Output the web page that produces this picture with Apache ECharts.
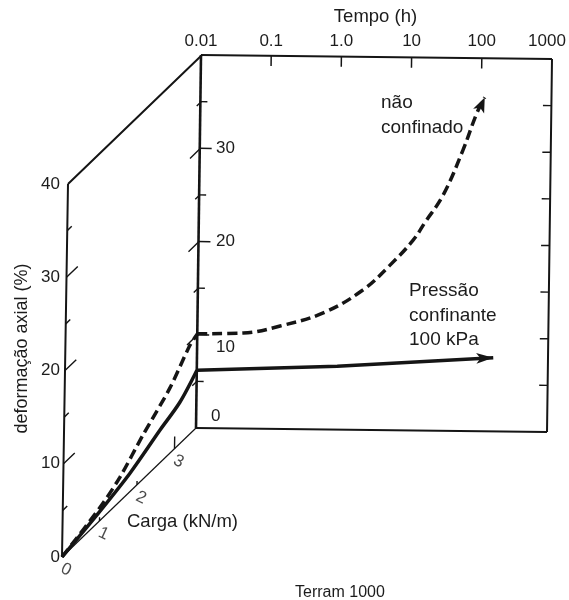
<!DOCTYPE html>
<html><head><meta charset="utf-8">
<style>html,body{margin:0;padding:0;background:#fff}#c{width:569px;height:600px}</style>
<script src="https://cdn.jsdelivr.net/npm/echarts@6/dist/echarts.min.js"></script>
</head><body><div id="c"></div>
<script>
const timeTicks=[0.01,0.1,1,10,100,1000];
const timeLabels=['0.01','0.1','1.0','10','100','1000'];
const strainMajor=[10,20,30];
const strainMinor=[5,15,25,35];
const loadLabels=[0,1,2,3];
const LOAD_MAX=3.573, STRAIN_MAX=40;
// curves: load stage (load kN/m, strain %)
const loadDashedL=[0,1,1.536,2.14,2.85,3.376,3.573];
const loadDashedS=[0,1.4,2.63,4.8,7.1,9.66,10.1];
const loadSolidL=[0,1,1.805,2.6,3.125,3.573];
const loadSolidS=[0,1.0,2.0,3.55,4.5,6.2];
// curves: creep stage (time h, strain %)
const creepDashedT=[0.01,0.045,0.151,0.617,2.24,5.4,11.4,16.6,30,56,87,112];
const creepDashedS=[10.1,10.24,11.04,12.5,15,17.7,20.4,22.3,25.3,30.1,34.1,35.8];
const creepSolidT=[0.01,1,166];
const creepSolidS=[6.2,6.8,7.9];

// Oblique drawing: the printed planes are slightly sheared, expressed in each grid's units
function back(t,s){const u=Math.log10(t/0.01);
  return [0.01*Math.pow(10,u+s*0.125/70.2), s-u*0.8/9.325];}
function side(L,s){return [L+s*0.004, s+L*3.871];}
const GAP=[NaN,NaN];
function segs(list,fn){const o=[];list.forEach(p=>{o.push(fn(p[0],p[1]),fn(p[2],p[3]),GAP);});return o;}
const INK='#151515', TXT='#1c1c1c', FF='Liberation Sans';
const T0=0.01,T1=1000;
const ln=(name,gi,data,w,extra)=>Object.assign({name,type:'line',xAxisIndex:gi,yAxisIndex:gi,data,
  symbol:'none',silent:true,clip:false,animation:false,connectNulls:false,
  lineStyle:{color:INK,width:w},itemStyle:{color:INK}},extra||{});
const dec=(t,d)=>t*Math.pow(10,d);

const frame=segs([[T0,40,T1,40],[T1,40,T1,0],[T1,0,T0,0]],back);
const backEdge=segs([[T0,0,T0,40]],back);
const sideFrame=segs([[0,0,0,STRAIN_MAX],[0,STRAIN_MAX,LOAD_MAX,STRAIN_MAX]],side);
const loadAxis=segs([[0,0,LOAD_MAX,0]],side);
const backTicks=segs([
  ...strainMajor.map(s=>[T0,s,dec(T0,0.17),s]),
  ...strainMinor.map(s=>[T0,s,dec(T0,0.1),s]),
  ...timeTicks.slice(1,5).map(t=>[t,40,t,38.9]),
  ...strainMajor.concat(strainMinor).map(s=>[T1,s,dec(T1,-0.12),s])
],back);
const sideTicks=segs([
  ...strainMajor.map(s=>[0,s,0.3,s]),
  ...strainMinor.map(s=>[0,s,0.12,s]),
  ...strainMajor.map(s=>[LOAD_MAX,s,LOAD_MAX-0.28,s]),
  ...strainMinor.map(s=>[LOAD_MAX,s,LOAD_MAX-0.12,s]),
  [1,0,1,0.4],[2,0,2,0.4],[3,0,3,1.3]
],side);
const zipPts=(a,b,fn)=>a.map((v,i)=>fn(v,b[i]));
function withArrow(pts,rot,size){const n=pts.length-1;
  return pts.map((p,i)=>i===n?{value:p,symbol:'arrow',symbolSize:size,symbolRotate:rot}:{value:p,symbol:'none'});}
const txt=(x,y,text,o)=>({type:'text',x,y,silent:true,style:Object.assign({text,fill:TXT,
  font:'19px "Liberation Sans"',lineHeight:24.5},o||{})});

const chart=echarts.init(document.getElementById('c'),null,{renderer:'canvas'});
const tickLabel=v=>{const i=timeTicks.findIndex(t=>Math.abs(Math.log10(t)-Math.log10(v))<1e-6);
  if(i<0)return ''; return i===timeTicks.length-1?timeLabels[i]:'{s|'+timeLabels[i]+'}';};
const lab={fontSize:17,fontFamily:FF,color:TXT};
chart.setOption({
  animation:false,backgroundColor:'#fff',
  grid:[{left:196,width:359,top:55,height:373},{left:62,width:142.5,top:184,height:373}],
  xAxis:[
    {type:'log',logBase:10,gridIndex:0,position:'top',min:T0,max:1300,
     name:'Tempo (h)',nameLocation:'middle',nameGap:29,nameTextStyle:{color:TXT,fontSize:18.5,fontFamily:FF},
     axisLine:{show:false},axisTick:{show:false},splitLine:{show:false},minorTick:{show:false},
     axisLabel:{formatter:tickLabel,margin:5,color:TXT,fontSize:17,fontFamily:FF,showMinLabel:true,showMaxLabel:true,
       rich:{s:Object.assign({padding:[0,0,0,10]},lab)}}},
    {type:'value',gridIndex:1,min:0,max:3.8,show:false}
  ],
  yAxis:[
    {type:'value',gridIndex:0,min:0,max:STRAIN_MAX,interval:10,
     axisLine:{show:false},axisTick:{show:false},splitLine:{show:false},
     axisLabel:{inside:true,margin:15,color:TXT,fontSize:17,fontFamily:FF,
       formatter:v=>v===40?'':v===10?'{lo|10}':v===0?'{zero|0}':'{n|'+v+'}',
       rich:{n:Object.assign({padding:[0,0,0,5]},lab),
             lo:Object.assign({padding:[26,0,0,5]},lab),
             zero:Object.assign({padding:[0,0,24,0]},lab)}}},
    {type:'value',gridIndex:1,min:0,max:STRAIN_MAX,interval:10,
     name:'deformação axial (%)',nameLocation:'middle',nameGap:31,
     nameTextStyle:{color:TXT,fontSize:18,fontFamily:FF,padding:[0,0,0,44]},
     axisLine:{show:false},axisTick:{show:false},splitLine:{show:false},
     axisLabel:{margin:2,color:TXT,fontSize:17,fontFamily:FF}}
  ],
  series:[
    ln('frame',0,frame,2),
    ln('backEdge',0,backEdge,2.6),
    ln('backTicks',0,backTicks,1.5),
    ln('sideFrame',1,sideFrame,2),
    ln('loadAxis',1,loadAxis,1.2),
    ln('sideTicks',1,sideTicks,1.4),
    ln('carga tracejada',1,zipPts(loadDashedL,loadDashedS,side),3.5,{smooth:0.3,lineStyle:{color:INK,width:3.5,type:[10,5]}}),
    ln('carga confinante',1,zipPts(loadSolidL,loadSolidS,side),3.5,{smooth:0.3}),
    ln('não confinado',0,withArrow(zipPts(creepDashedT,creepDashedS,back),-24,[9,15]),3.5,{smooth:0.4,showSymbol:true,showAllSymbol:true,lineStyle:{color:INK,width:3.5,type:[10,5]}}),
    ln('Pressão confinante 100 kPa',0,withArrow(zipPts(creepSolidT,creepSolidS,back),-88,[8,17]),3.5,{showSymbol:true,showAllSymbol:true}),
    {name:'loadLabels',type:'scatter',xAxisIndex:1,yAxisIndex:1,silent:true,clip:false,symbolSize:1,
     itemStyle:{color:'transparent'},animation:false,
     data:loadLabels.map(L=>({value:side(L,0),name:String(L)})),
     label:{show:true,position:'inside',offset:[9,10],rotate:-25,formatter:p=>p.name,color:TXT,fontSize:17,fontFamily:FF}}
  ],
  graphic:[
    txt(127,510,'Carga (kN/m)',{font:'18.5px "Liberation Sans"'}),
    txt(381,91,'não\nconfinado'),
    txt(409,279,'Pressão\nconfinante\n100 kPa'),
    txt(295,580,'Terram 1000',{font:'16px "Liberation Sans"'})
  ]
});
</script></body></html>
